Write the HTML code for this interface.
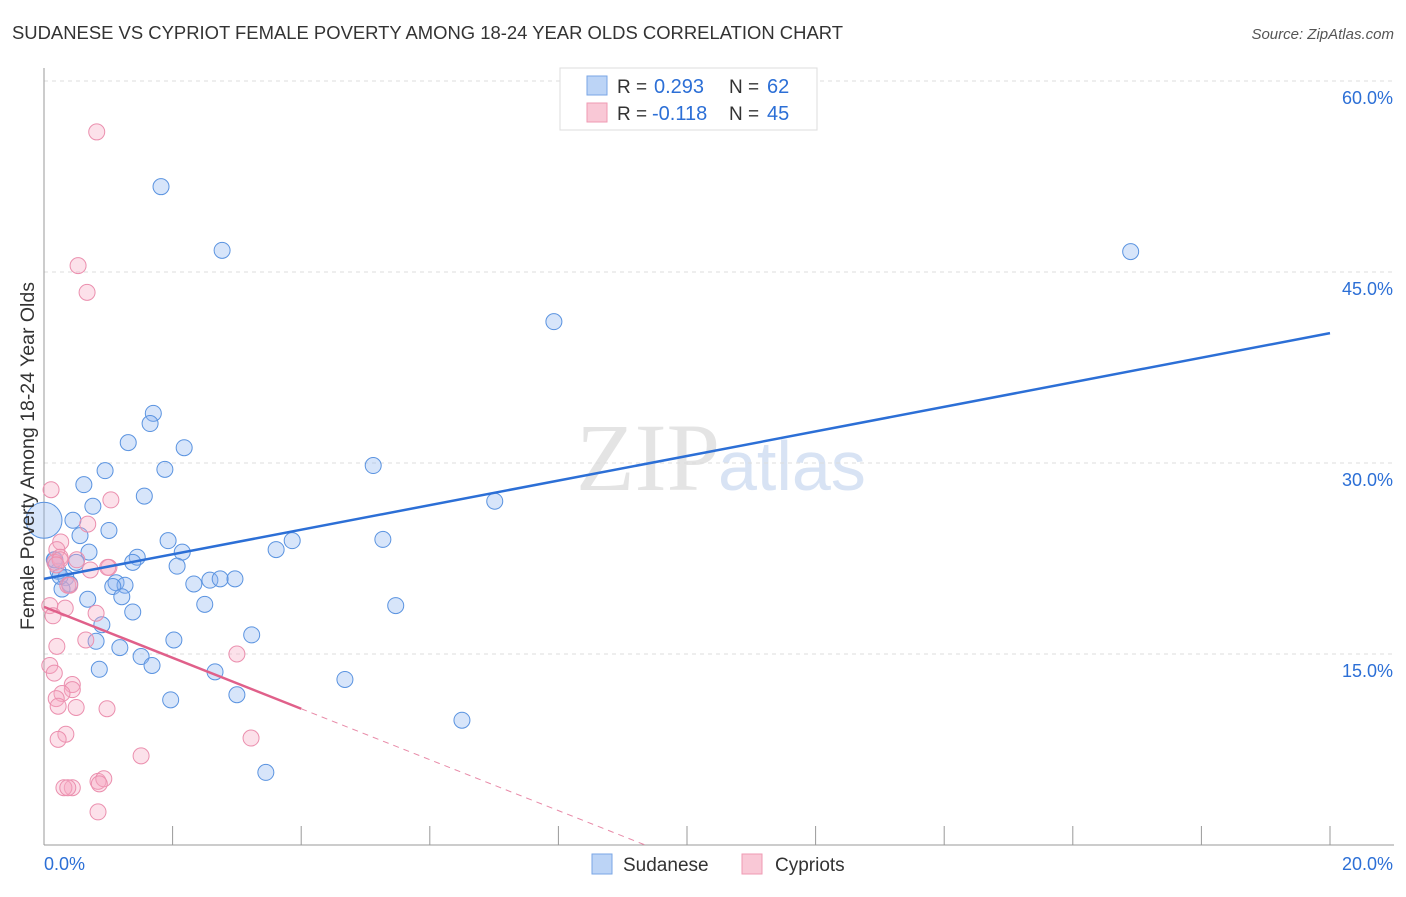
<!DOCTYPE html>
<html><head><meta charset="utf-8"><style>
body{margin:0;background:#fff;font-family:"Liberation Sans",sans-serif}
</style></head><body>
<svg id="chart" width="1406" height="892" xmlns="http://www.w3.org/2000/svg" font-family="Liberation Sans, sans-serif">
<text x="12" y="39" font-size="18" fill="#333" textLength="831" lengthAdjust="spacingAndGlyphs">SUDANESE VS CYPRIOT FEMALE POVERTY AMONG 18-24 YEAR OLDS CORRELATION CHART</text>
<text x="1394" y="39" font-size="15" fill="#555" text-anchor="end" font-style="italic">Source: ZipAtlas.com</text>
<text x="720" y="490" font-size="96" fill="#e4e4e4" text-anchor="end" font-family="Liberation Serif, serif">ZIP</text>
<text x="718" y="490" font-size="70" fill="#d8e3f4">atlas</text>
<g id="grid"></g>
<g id="axes"></g>
<g id="marks"></g>
<text transform="translate(34,456) rotate(-90)" font-size="19" fill="#333" text-anchor="middle" textLength="348" lengthAdjust="spacingAndGlyphs">Female Poverty Among 18-24 Year Olds</text>
<g>
<rect x="560" y="68" width="257" height="62" fill="#fff" stroke="#ddd"/>
<rect x="587" y="76" width="20" height="19" fill="#bcd4f6" stroke="#7aa6e6"/>
<text x="617" y="93" font-size="19" fill="#333">R =</text>
<text x="654" y="93" font-size="20" fill="#2c6fd6">0.293</text>
<text x="729" y="93" font-size="19" fill="#333">N =</text>
<text x="767" y="93" font-size="20" fill="#2c6fd6">62</text>
<rect x="587" y="103" width="20" height="19" fill="#f9c8d6" stroke="#ef9ab3"/>
<text x="617" y="120" font-size="19" fill="#333">R =</text>
<text x="652" y="120" font-size="20" fill="#2c6fd6">-0.118</text>
<text x="729" y="120" font-size="19" fill="#333">N =</text>
<text x="767" y="120" font-size="20" fill="#2c6fd6">45</text>
</g>
<g>
<rect x="592" y="854" width="20" height="20" fill="#bcd4f6" stroke="#7aa6e6"/>
<text x="623" y="871" font-size="19" fill="#333">Sudanese</text>
<rect x="742" y="854" width="20" height="20" fill="#f9c8d6" stroke="#ef9ab3"/>
<text x="775" y="871" font-size="19" fill="#333">Cypriots</text>
</g>
</svg>
<script>
const yTicks=[15,30,45,60];
const xTickLabels=["0.0%","20.0%"];
const sudX=[1.82,2.77,16.9,7.93,1.7,1.65,1.31,2.18,1.88,0.95,5.12,0.62,1.56,7.01,0.76,0.45,1.01,0.56,5.27,1.93,3.86,3.61,2.15,0.7,1.45,1.38,0.17,0.5,2.07,0.22,0.34,1.12,2.58,2.74,2.97,2.33,1.26,1.07,0.4,0.28,0.68,1.21,2.5,5.47,1.38,0.9,3.23,0.81,2.02,1.18,1.51,1.68,0.86,2.66,4.68,1.97,3.0,6.5,3.45,0.0,0.16,0.25];
const sudY=[51.7,46.7,46.6,41.1,33.9,33.1,31.6,31.2,29.5,29.4,29.8,28.3,27.4,27.0,26.6,25.5,24.7,24.3,24.0,23.9,23.9,23.2,23.0,23.0,22.6,22.2,22.4,22.2,21.9,21.5,21.0,20.6,20.8,20.9,20.9,20.5,20.4,20.3,20.5,20.1,19.3,19.5,18.9,18.8,18.3,17.3,16.5,16.0,16.1,15.5,14.8,14.1,13.8,13.6,13.0,11.4,11.8,9.8,5.7,25.5,22.4,21.1];
const sudR=[8,8,8,8,8,8,8,8,8,8,8,8,8,8,8,8,8,8,8,8,8,8,8,8,8,8,8,8,8,8,8,8,8,8,8,8,8,8,8,8,8,8,8,8,8,8,8,8,8,8,8,8,8,8,8,8,8,8,8,18,8,8];
const cypX=[0.82,0.53,0.67,0.11,1.04,0.68,0.26,0.2,1.01,0.51,0.25,0.72,0.17,0.37,0.09,0.33,0.14,0.81,0.2,0.65,0.99,3.0,0.09,0.16,0.44,0.44,0.28,0.19,0.22,0.5,0.98,0.34,0.22,1.51,3.22,0.44,0.31,0.37,0.84,0.93,0.86,0.84,0.25,0.19,0.4];
const cypY=[56.0,45.5,43.4,27.9,27.1,25.2,23.8,23.2,21.8,22.4,22.6,21.6,22.2,20.4,18.8,18.6,18.0,18.2,15.6,16.1,21.8,15.0,14.1,13.5,12.6,12.2,11.9,11.5,10.9,10.8,10.7,8.7,8.3,7.0,8.4,4.5,4.5,4.5,5.0,5.2,4.8,2.6,22.4,22.0,20.4];
const sudTrend=[20.9,40.2];
const cypTrend=[18.7,-21.3];
const NS="http://www.w3.org/2000/svg";
const X0=44,X1=1330,Y0=845,PY=191/15;
const sx=v=>X0+(v/20)*(X1-X0);
const sy=v=>Y0-v*PY;
function mk(tag,attrs,parent){const e=document.createElementNS(NS,tag);for(const k in attrs)e.setAttribute(k,attrs[k]);parent.appendChild(e);return e;}
const grid=document.getElementById('grid'),axes=document.getElementById('axes'),marks=document.getElementById('marks');
yTicks.forEach(t=>{
 const l=mk('line',{x1:X0,x2:1394,y1:sy(t),y2:sy(t),stroke:'#ddd','stroke-dasharray':'4,4'},grid);
 
 
 const tx=mk('text',{x:1393,y:sy(t)+23,'font-size':18,fill:'#2c6fd6','text-anchor':'end'},axes);
 tx.textContent=t.toFixed(1)+'%';
 
 
});
const ya=mk('line',{x1:X0,x2:X0,y1:68,y2:Y0,stroke:'#999'},axes);


const xa=mk('line',{x1:X0,x2:1394,y1:Y0,y2:Y0,stroke:'#999'},axes);


for(let i=0;i<=10;i++){const x=sx(i*2);const t=mk('line',{x1:x,x2:x,y1:826,y2:Y0,stroke:'#999'},axes);
 
 }
const xl0=mk('text',{x:44,y:870,'font-size':18,fill:'#2c6fd6'},axes);xl0.textContent=xTickLabels[0];


const xl1=mk('text',{x:1393,y:870,'font-size':18,fill:'#2c6fd6','text-anchor':'end'},axes);xl1.textContent=xTickLabels[1];


sudX.forEach((v,i)=>{const c=mk('circle',{cx:sx(v),cy:sy(sudY[i]),r:sudR[i],fill:'rgba(140,180,240,0.35)',stroke:'#5a93e0','stroke-width':1},marks);
 
 });
cypX.forEach((v,i)=>{const c=mk('circle',{cx:sx(v),cy:sy(cypY[i]),r:8,fill:'rgba(245,170,195,0.35)',stroke:'#eb8fae','stroke-width':1},marks);
 
 });
const bl=mk('line',{x1:sx(0),y1:sy(sudTrend[0]),x2:sx(20),y2:sy(sudTrend[1]),stroke:'#2c6fd6','stroke-width':2.5},marks);


const slope=(cypTrend[1]-cypTrend[0])/20;
const xEnd=-cypTrend[0]/slope;
const pl=mk('line',{x1:sx(0),y1:sy(cypTrend[0]),x2:sx(4),y2:sy(cypTrend[0]+slope*4),stroke:'#e0608a','stroke-width':2.5},marks);


const pd=mk('line',{x1:sx(4),y1:sy(cypTrend[0]+slope*4),x2:sx(xEnd),y2:sy(0),stroke:'#e88aa8','stroke-width':1,'stroke-dasharray':'6,5'},marks);


</script>
</body></html>
